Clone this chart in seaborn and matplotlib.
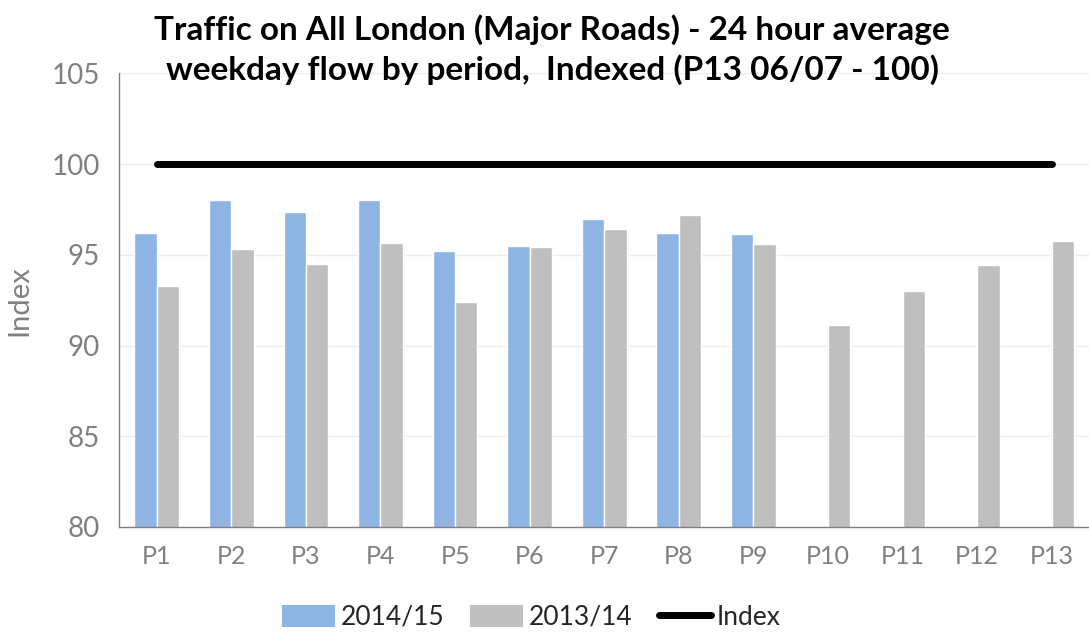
import matplotlib
matplotlib.use("Agg")
import matplotlib.pyplot as plt
import seaborn as sns
import pandas as pd
import numpy as np
from matplotlib.patches import Patch
from matplotlib.lines import Line2D

periods = ["P1", "P2", "P3", "P4", "P5", "P6", "P7", "P8", "P9", "P10", "P11", "P12", "P13"]
values_2014_15 = [96.2, 98.0, 97.35, 98.0, 95.2, 95.5, 97.0, 96.2, 96.15, np.nan, np.nan, np.nan, np.nan]
values_2013_14 = [93.3, 95.3, 94.5, 95.65, 92.4, 95.45, 96.45, 97.2, 95.6, 91.15, 93.0, 94.45, 95.75]
index_values = [100, 100, 100, 100, 100, 100, 100, 100, 100, 100, 100, 100, 100]
series_names = ["2014/15", "2013/14"]
yticks = [80, 85, 90, 95, 100, 105]

sns.set_theme(style="white")
plt.rcParams['font.family'] = ['Lato', 'DejaVu Sans']

df = pd.DataFrame({
    "period": periods * 2,
    "series": [series_names[0]] * len(periods) + [series_names[1]] * len(periods),
    "value": values_2014_15 + values_2013_14,
})

blue = "#8EB4E3"
gray = "#BFBFBF"
tickgray = "#808080"

fig = plt.figure(figsize=(10.89, 6.33), dpi=100)
ax = fig.add_axes([0.1097, 0.1675, 0.8903, 0.7165])

sns.barplot(data=df, x="period", y="value", hue="series", order=periods,
            hue_order=series_names, palette=[blue, gray], width=0.6,
            saturation=1, ax=ax, legend=False)

sns.lineplot(x=np.arange(len(periods)), y=index_values, color="black", lw=5,
             solid_capstyle="round", ax=ax)

ax.set_ylim(80, 105)
ax.set_xlim(-0.5, len(periods) - 0.5)
ax.set_yticks(yticks)
ax.set_yticklabels([str(v) for v in yticks], fontsize=20, color=tickgray)
ax.set_xticks(np.arange(len(periods)))
ax.set_xticklabels(periods, fontsize=18, color=tickgray)
ax.set_xticks(np.arange(-0.5, len(periods), 1.0), minor=True)
ax.tick_params(axis="x", which="major", length=0, pad=13)
ax.tick_params(axis="x", which="minor", length=9, color=tickgray, width=1, direction="out")
ax.tick_params(axis="y", length=6, color=tickgray, width=1, direction="out", pad=8)
ax.set_xlabel("")
ax.set_ylabel("Index", fontsize=21, color=tickgray, labelpad=14)

ax.grid(axis="y", color="#EDEDED", lw=1)
ax.set_axisbelow(True)
for s in ["top", "right"]:
    ax.spines[s].set_visible(False)
for s in ["left", "bottom"]:
    ax.spines[s].set_color(tickgray)
    ax.spines[s].set_linewidth(1)

fig.text(0.507, 0.953, "Traffic on All London (Major Roads) - 24 hour average",
         ha="center", va="center", fontsize=24, fontweight="bold", color="black")
fig.text(0.507, 0.890, "weekday flow by period,  Indexed (P13 06/07 - 100)",
         ha="center", va="center", fontsize=24, fontweight="bold", color="black")

handles = [Patch(facecolor=blue, edgecolor="none"),
           Patch(facecolor=gray, edgecolor="none"),
           Line2D([0], [0], color="black", lw=5, solid_capstyle="round")]
fig.legend(handles, series_names + ["Index"], loc="center", bbox_to_anchor=(0.488, 0.025),
           ncol=3, frameon=False, fontsize=19, handlelength=2.0, handleheight=0.9,
           columnspacing=1.0, handletextpad=0.2)

fig.savefig("out.png", dpi=100)
